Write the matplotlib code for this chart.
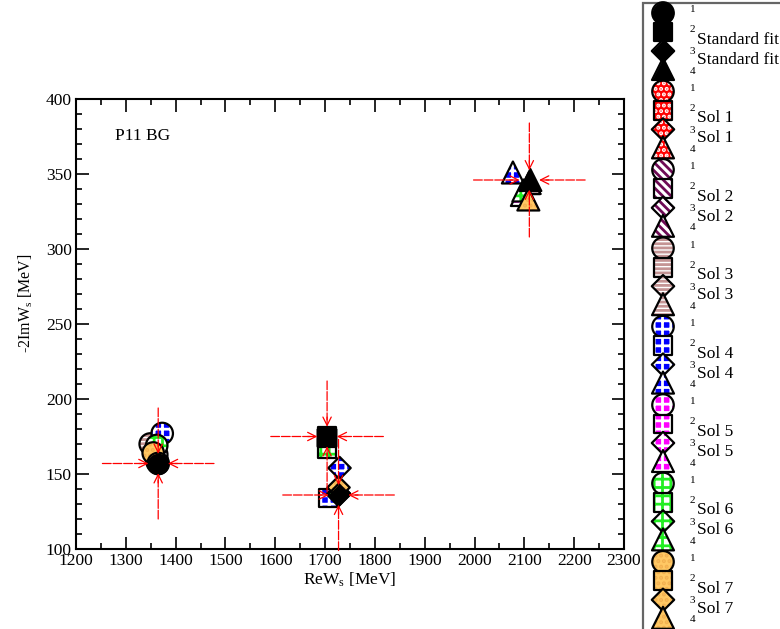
import matplotlib
matplotlib.use('Agg')
import matplotlib.pyplot as plt
from matplotlib.ticker import MultipleLocator
from matplotlib.patches import Rectangle

plt.rcParams['font.family'] = ['Liberation Serif', 'DejaVu Serif']
plt.rcParams['mathtext.fontset'] = 'custom'
plt.rcParams['mathtext.rm'] = 'Liberation Serif'
plt.rcParams['mathtext.it'] = 'Liberation Serif:italic'
plt.rcParams['hatch.linewidth'] = 2.0

# ---------------- data ----------------
solutions = ['Standard fit', 'Sol 1', 'Sol 2', 'Sol 3', 'Sol 4', 'Sol 5', 'Sol 6', 'Sol 7']

# pole 1 (circles)
re_1 = [1365, 1363, 1362, 1349, 1373, 1362, 1362, 1355]
im_1 = [157, 158, 160, 170, 177, 163, 169, 164]
# pole 2 (squares)
re_2 = [1704, 1704, 1704, 1704, 1706, 1704, 1704, 1704]
im_2 = [175, 174, 174, 174, 134, 174, 167, 174]
# pole 3 (diamonds)
re_3 = [1727, 1727, 1727, 1727, 1729, 1727, 1727, 1727]
im_3 = [136, 137, 137, 137, 154, 137, 137, 141]
# pole 4 (triangles)
re_4 = [2112, 2110, 2110, 2110, 2077, 2095, 2098, 2108]
im_4 = [346, 344, 344, 344, 351, 336, 339, 333]

# error crosses (standard fit)
err_re = [1365, 1704, 1727, 2110]
err_im = [157, 175, 136, 346]
err_dre = [112, 113, 112, 112]
err_dim = [37, 37, 37, 38]

# fill styles: (face, hatch, hatch colour)
fills = {
    'Standard fit': ('black', None, 'black'),
    'Sol 1': ('#ff0000', '...', 'white'),
    'Sol 2': ('white', '\\\\\\\\', '#6e0a55'),
    'Sol 3': ('white', '----', '#c49494'),
    'Sol 4': ('#0000ff', '++', 'white'),
    'Sol 5': ('#ff00ff', '++', 'white'),
    'Sol 6': ('white', '++', '#22ee22'),
    'Sol 7': ('#ffc864', '...', '#f2b050'),
}
markers = ['o', 's', 'D', '^']
sizes = [240, 180, 130, 250]

fig = plt.figure(figsize=(7.8, 6.29), dpi=100)
ax = fig.add_axes([76/780, 1-549/629, (624-76)/780, (549-99)/629])


def draw_marker(a, x, y, m, s, name, z):
    face, hatch, hcol = fills[name]
    a.scatter(x, y, marker=m, s=s, facecolor=face, edgecolor=hcol,
              linewidths=0, hatch=hatch, zorder=z, clip_on=False)
    a.scatter(x, y, marker=m, s=s, facecolor='none', edgecolor='black',
              linewidths=1.6, zorder=z + 0.01, clip_on=False)


order = list(range(1, 8)) + [0]
re_all = [re_1, re_2, re_3, re_4]
im_all = [im_1, im_2, im_3, im_4]
z = 3
for i in order:
    for k in range(4):
        draw_marker(ax, [re_all[k][i]], [im_all[k][i]], markers[k], sizes[k], solutions[i], z)
        z += 0.02

# error crosses with inward arrows
dash = (0, (7, 1.5))
for cx, cy, dx, dy in zip(err_re, err_im, err_dre, err_dim):
    for ex, ey, ox, oy in [(cx - dx, cy, -1, 0), (cx + dx, cy, 1, 0),
                           (cx, cy + dy, 0, 1), (cx, cy - dy, 0, -1)]:
        ax.annotate('', xy=(cx, cy), xytext=(ex, ey),
                    arrowprops=dict(arrowstyle='-', color='red', lw=0.9,
                                    linestyle=dash, shrinkA=0, shrinkB=12),
                    zorder=10, annotation_clip=False)
        ax.annotate('', xy=(cx, cy), xytext=(ox * 14, oy * 14), textcoords='offset points',
                    arrowprops=dict(arrowstyle='->,head_length=0.6,head_width=0.3',
                                    color='red', lw=0.9, shrinkA=0, shrinkB=7),
                    zorder=10, annotation_clip=False)

ax.set_xlim(1200, 2300)
ax.set_ylim(100, 400)
ax.xaxis.set_major_locator(MultipleLocator(100))
ax.xaxis.set_minor_locator(MultipleLocator(50))
ax.yaxis.set_major_locator(MultipleLocator(50))
ax.yaxis.set_minor_locator(MultipleLocator(10))
ax.tick_params(which='both', direction='in', top=True, right=True, width=1.2, labelsize=12.5)
ax.tick_params(which='major', length=9, pad=3)
ax.tick_params(which='minor', length=4.5)
for sp in ax.spines.values():
    sp.set_linewidth(1.5)
ax.set_xlabel(r'ReW$_{\rm s}$ [MeV]', fontsize=12.5, labelpad=1)
ax.set_ylabel(r'-2ImW$_{\rm s}$ [MeV]', fontsize=11.5)
ax.yaxis.set_label_coords(-0.075, 0.545)
ax.text(1278, 375, 'P11 BG', fontsize=12.5, va='center', ha='left')

# ---------------- legend ----------------
lax = fig.add_axes([0, 0, 1, 1], zorder=5)
lax.set_xlim(0, 780)
lax.set_ylim(629, 0)
lax.axis('off')
lax.patch.set_alpha(0)
lax.add_patch(Rectangle((643, 3), 200, 700, facecolor='white', edgecolor='#666666',
                        linewidth=1.6, zorder=1, clip_on=False))
mx = 663
row_off = [0, 19, 38, 56]
for g, name in enumerate(solutions):
    yc = 13 + 78.4 * g
    for k in range(4):
        draw_marker(lax, [mx], [yc + row_off[k]], markers[k], sizes[k], name, 3 + k * 0.1)
    lax.text(690, yc - 3, '1', fontsize=8, va='center', ha='left')
    lax.text(690, yc + 17, '2', fontsize=8, va='center', ha='left')
    lax.text(690, yc + 39, '3', fontsize=8, va='center', ha='left')
    lax.text(690, yc + 58, '4', fontsize=8, va='center', ha='left')
    lax.text(697, yc + 27, name, fontsize=12.5, va='center', ha='left')
    lax.text(697, yc + 47, name, fontsize=12.5, va='center', ha='left')

fig.savefig('out.png', dpi=100)
